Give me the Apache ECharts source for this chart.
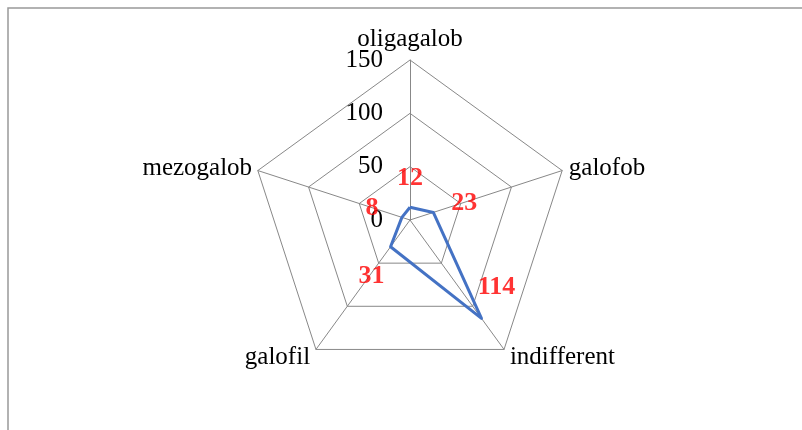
<!DOCTYPE html>
<html>
<head>
<meta charset="utf-8">
<script src="https://cdn.jsdelivr.net/npm/echarts@6/dist/echarts.min.js"></script>
<style>
html,body{margin:0;padding:0;background:#fff;}
#chart{width:802px;height:430px;}
</style>
</head>
<body>
<div id="chart"></div>
<script>
// Categories in clockwise order starting at the top (as in the reference)
var categories = ['oligagalob', 'galofob', 'indifferent', 'galofil', 'mezogalob'];
var values = [12, 23, 114, 31, 8];
var axisMax = 150;
var axisTicks = [0, 50, 100, 150];

var FONT = '"Liberation Serif", "Times New Roman", serif';
var CENTER = [410, 220];
var RADIUS = 160;

// label offsets (style only) for each category's value label
var labelOffsets = [[0, -29], [31, -9], [15, -31], [-19, 30], [-30, -9]];
// name gaps (style only) per category
var nameGaps = [8, 7, 10, 10, 6];

// ECharts radar goes counter-clockwise: reorder
var order = [0, 4, 3, 2, 1];
var radarInd = order.map(function (i, k) {
  var o = { name: categories[i], max: axisMax, min: 0, nameGap: nameGaps[i], nameMoveOverlap: false };
  if (k === 0) o.axisLabel = { show: true };
  return o;
});
var radarVals = order.map(function (i) { return values[i]; });

var chart = echarts.init(document.getElementById('chart'));
chart.setOption({
  animation: false,
  backgroundColor: '#fff',
  graphic: [{
    type: 'rect', silent: true, z: -1,
    shape: { x: 8, y: 8, width: 900, height: 600 },
    style: { fill: 'none', stroke: '#999', lineWidth: 1.5 }
  }],
  radar: {
    center: CENTER,
    radius: RADIUS,
    startAngle: 90,
    splitNumber: axisTicks.length - 1,
    indicator: radarInd,
    nameGap: 5,
    axisName: { color: '#000', fontFamily: FONT, fontSize: 25 },
    axisLine: { lineStyle: { color: '#888', width: 1 } },
    splitLine: { lineStyle: { color: '#888', width: 1 } },
    splitArea: { show: false },
    axisTick: { show: false },
    axisLabel: { show: false, color: '#000', fontFamily: FONT, fontSize: 25, margin: 27 }
  },
  polar: { center: CENTER, radius: RADIUS },
  angleAxis: {
    type: 'category', data: categories, startAngle: 90, clockwise: true, boundaryGap: false,
    show: false
  },
  radiusAxis: { min: 0, max: axisMax, show: false },
  series: [{
    type: 'radar',
    symbol: 'none',
    lineStyle: { color: '#4472C4', width: 3 },
    data: [{ value: radarVals }]
  }, {
    type: 'scatter',
    coordinateSystem: 'polar',
    symbolSize: 0,
    data: categories.map(function (c, i) {
      return { value: [values[i], c], label: { offset: labelOffsets[i] } };
    }),
    label: {
      show: true, position: 'inside', color: '#FF0000', fontWeight: 'bold',
      fontFamily: FONT, fontSize: 26,
      formatter: function (p) { return p.value[0]; }
    }
  }]
});
</script>
</body>
</html>
